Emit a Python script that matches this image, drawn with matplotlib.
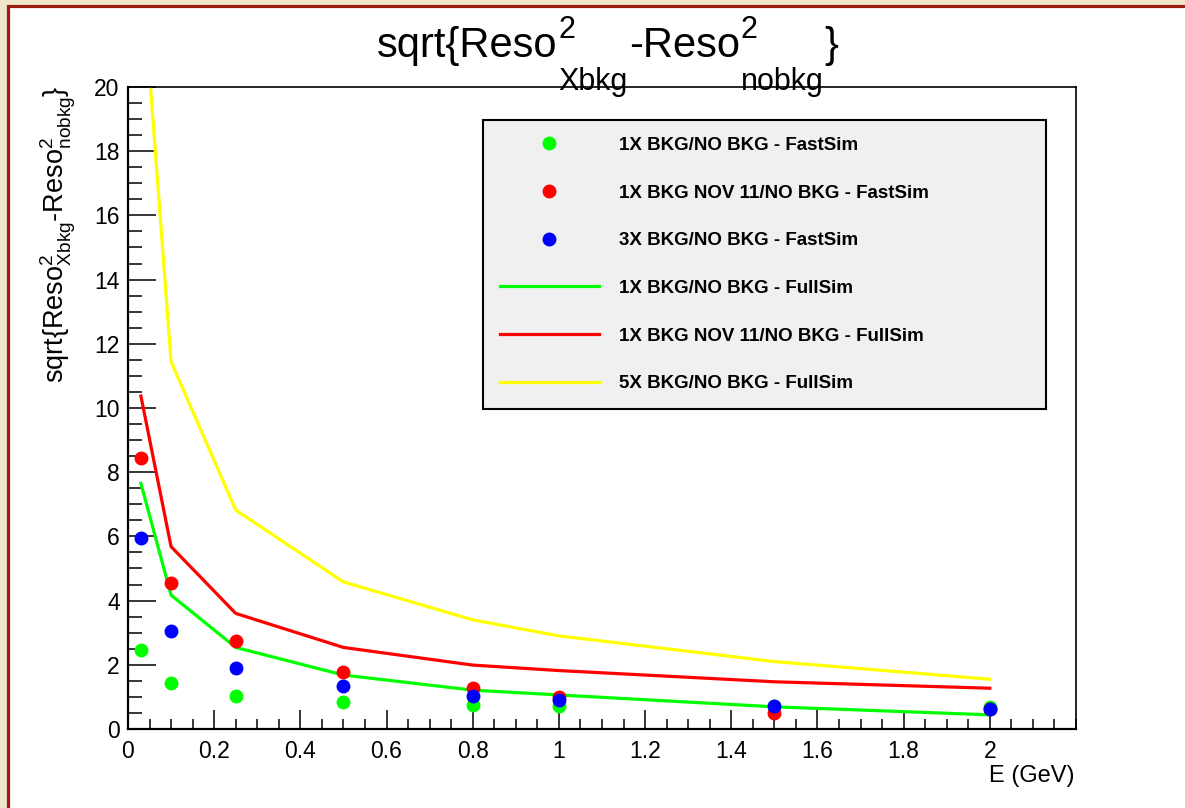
import matplotlib
matplotlib.use("Agg")
import matplotlib.pyplot as plt
from matplotlib.patches import Rectangle
from matplotlib.lines import Line2D

plt.rcParams['font.family'] = ['Liberation Sans', 'DejaVu Sans']
plt.rcParams['mathtext.default'] = 'regular'

# energies (GeV)
energy = [0.03, 0.1, 0.25, 0.5, 0.8, 1.0, 1.5, 2.0]

# FastSim points
fast_1x = [2.46, 1.42, 1.04, 0.83, 0.75, 0.72, 0.71, 0.69]
fast_1x_nov11 = [8.43, 4.54, 2.75, 1.79, 1.27, 1.00, 0.49, 0.62]
fast_3x = [5.96, 3.05, 1.89, 1.34, 1.03, 0.90, 0.73, 0.63]

# FullSim curves
full_1x = [7.65, 4.17, 2.54, 1.68, 1.21, 1.06, 0.69, 0.44]
full_1x_nov11 = [10.37, 5.68, 3.60, 2.54, 1.99, 1.82, 1.47, 1.27]
full_5x = [24.0, 11.44, 6.82, 4.58, 3.40, 2.90, 2.10, 1.55]

labels = ["1X BKG/NO BKG - FastSim", "1X BKG NOV 11/NO BKG - FastSim",
          "3X BKG/NO BKG - FastSim", "1X BKG/NO BKG - FullSim",
          "1X BKG NOV 11/NO BKG - FullSim", "5X BKG/NO BKG - FullSim"]

x_ticks = [0, 0.2, 0.4, 0.6, 0.8, 1.0, 1.2, 1.4, 1.6, 1.8, 2.0]
x_tick_labels = ["0", "0.2", "0.4", "0.6", "0.8", "1", "1.2", "1.4", "1.6", "1.8", "2"]
y_ticks = [0, 2, 4, 6, 8, 10, 12, 14, 16, 18, 20]

GREEN = "#00ff00"
RED = "#ff0000"
BLUE = "#0000ff"
YELLOW = "#ffff00"

W, H = 1185, 808
fig = plt.figure(figsize=(W / 100, H / 100), dpi=100, facecolor="#efe6cb")

# white canvas with dark red frame
frame = Rectangle((0.007, -0.05), 1.1, 1.043, transform=fig.transFigure,
                  facecolor="white", edgecolor="#9b1c10", linewidth=2.3, zorder=0)
fig.add_artist(frame)

ax = fig.add_axes([0.108, 0.0978, 0.8, 0.7946])

ax.plot(energy, full_1x, color=GREEN, lw=2.3, zorder=2)
ax.plot(energy, full_1x_nov11, color=RED, lw=2.3, zorder=2)
ax.plot(energy, full_5x, color=YELLOW, lw=2.3, zorder=2)
ax.plot(energy, fast_1x, 'o', color=GREEN, ms=9, zorder=3)
ax.plot(energy, fast_1x_nov11, 'o', color=RED, ms=9, zorder=3)
ax.plot(energy, fast_3x, 'o', color=BLUE, ms=9, zorder=3)

ax.set_xlim(0, 2.2)
ax.set_ylim(0, 20)
ax.set_xticks(x_ticks)
ax.set_xticklabels(x_tick_labels)
ax.set_xticks([i * 0.05 for i in range(45)], minor=True)
ax.set_yticks(y_ticks)
ax.set_yticks([i * 0.5 for i in range(41)], minor=True)

ax.tick_params(axis='both', which='both', direction='in', top=False, right=False,
               width=1.1, labelsize=16.5)
ax.tick_params(axis='x', which='major', length=13.9, pad=8)
ax.tick_params(axis='x', which='minor', length=6.9)
ax.tick_params(axis='y', which='major', length=20, pad=6)
ax.tick_params(axis='y', which='minor', length=10)
for s in ['left', 'bottom']:
    ax.spines[s].set_linewidth(1.6)
for s in ['top', 'right']:
    ax.spines[s].set_linewidth(1.2)

# ROOT-style title: pieces with deep subscripts
renderer = fig.canvas.get_renderer()


def title_piece(x, base, s, size):
    t = fig.text(x / W, 1 - base / H, s, fontsize=size, ha='left', va='baseline')
    return t.get_window_extent(renderer).x1


x = 377
x = title_piece(x, 57, "sqrt{Reso", 30)
x = max(title_piece(x + 1, 38, "2", 22), title_piece(x + 1, 90, "Xbkg", 22)) + 1
x = title_piece(x, 57, "-Reso", 30)
x = max(title_piece(x + 1, 38, "2", 22), title_piece(x + 1, 90, "nobkg", 22)) + 1
title_piece(x, 57, "}", 30)

ax.set_xlabel("E (GeV)", fontsize=17, loc='right')
ax.xaxis.set_label_coords(0.998, -0.0826)
ax.xaxis.label.set_va('baseline')

ax.set_ylabel(r"sqrt{Reso$^{2}_{Xbkg}$-Reso$^{2}_{nobkg}$}", fontsize=19.5, loc='top')
ax.yaxis.set_label_coords(-0.073, 1.003)
ax.yaxis.label.set_va('center')

handles = [
    Line2D([], [], ls='none', marker='o', color=GREEN, ms=9),
    Line2D([], [], ls='none', marker='o', color=RED, ms=9),
    Line2D([], [], ls='none', marker='o', color=BLUE, ms=9),
    Line2D([], [], color=GREEN, lw=2.3),
    Line2D([], [], color=RED, lw=2.3),
    Line2D([], [], color=YELLOW, lw=2.3),
]
leg = ax.legend(handles, labels, loc='upper left',
                bbox_to_anchor=(0.3745, 0.5, 0.5939, 0.4486), mode='expand',
                borderaxespad=0, fancybox=False, framealpha=1,
                facecolor="#f0f0f0", edgecolor="black",
                prop={'weight': 'bold', 'size': 13.5},
                handlelength=5.27, handletextpad=1.06, borderpad=0.9,
                labelspacing=1.63)
leg.get_frame().set_linewidth(1.5)

fig.savefig("out.png", dpi=100, facecolor=fig.get_facecolor())
